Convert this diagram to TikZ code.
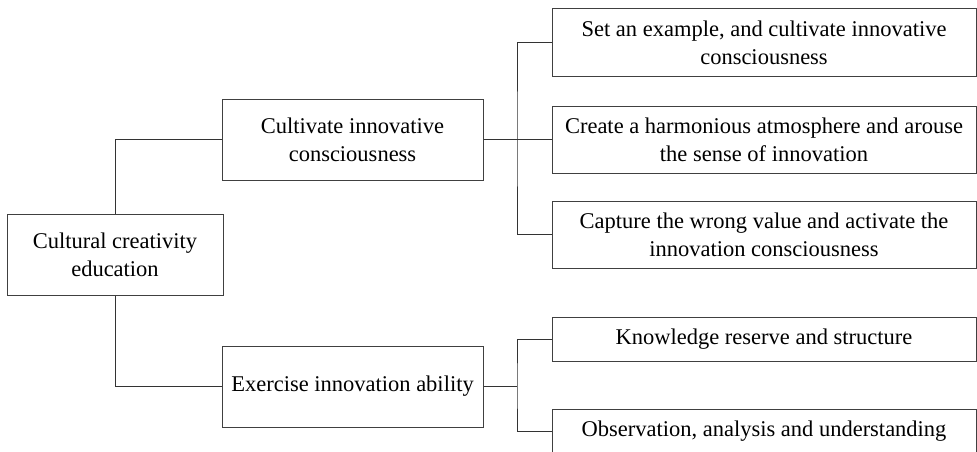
\documentclass[tikz,border=0pt]{standalone}
\usepackage{fontspec}
\setmainfont{Liberation Serif}
\begin{document}
\begin{tikzpicture}[x=1pt,y=-1pt,
  box/.style={draw=black!75,line width=1pt,fill=white,align=center,inner sep=0pt,
    font=\fontsize{22.5}{28}\selectfont,text=black},
  conn/.style={draw=black!80,line width=1pt}]
\useasboundingbox (0,0) rectangle (977,452);
\clip (0,0) rectangle (977,452);
\node[box,minimum width=216pt,minimum height=81pt] (root) at (115,254.5) {Cultural creativity\\education};
\node[box,minimum width=261pt,minimum height=81pt] (cult) at (352.5,139.5) {Cultivate innovative\\consciousness};
\node[box,minimum width=261pt,minimum height=81pt] (exer) at (352.5,386.5) {Exercise innovation ability};
\node[box,minimum width=424pt,minimum height=68pt] (r1) at (764,43) {Set an example, and cultivate innovative\\consciousness};
\node[box,minimum width=424pt,minimum height=67pt] (r2) at (764,139.5) {Create a harmonious atmosphere and arouse\\the sense of innovation};
\node[box,minimum width=424pt,minimum height=67pt] (r3) at (764,234.5) {Capture the wrong value and activate the\\innovation consciousness};
\node[box,minimum width=424pt,minimum height=44pt] (r4) at (764,339) {Knowledge reserve and structure};
\node[box,minimum width=424pt,minimum height=44pt] (r5) at (764,431) {Observation, analysis and understanding};
\coordinate (b1) at (517,139.5);
\coordinate (b2) at (517,386.5);
\draw[conn] (root.north) |- (cult.west);
\draw[conn] (root.south) |- (exer.west);
\draw[conn] (cult.east) -- (b1);
\draw[conn] (r1.west) -| (b1) |- (r3.west);
\draw[conn] (b1) -- (r2.west);
\draw[conn] (exer.east) -- (b2);
\draw[conn] (r4.west) -| (b2) |- (r5.west);
\end{tikzpicture}
\end{document}
